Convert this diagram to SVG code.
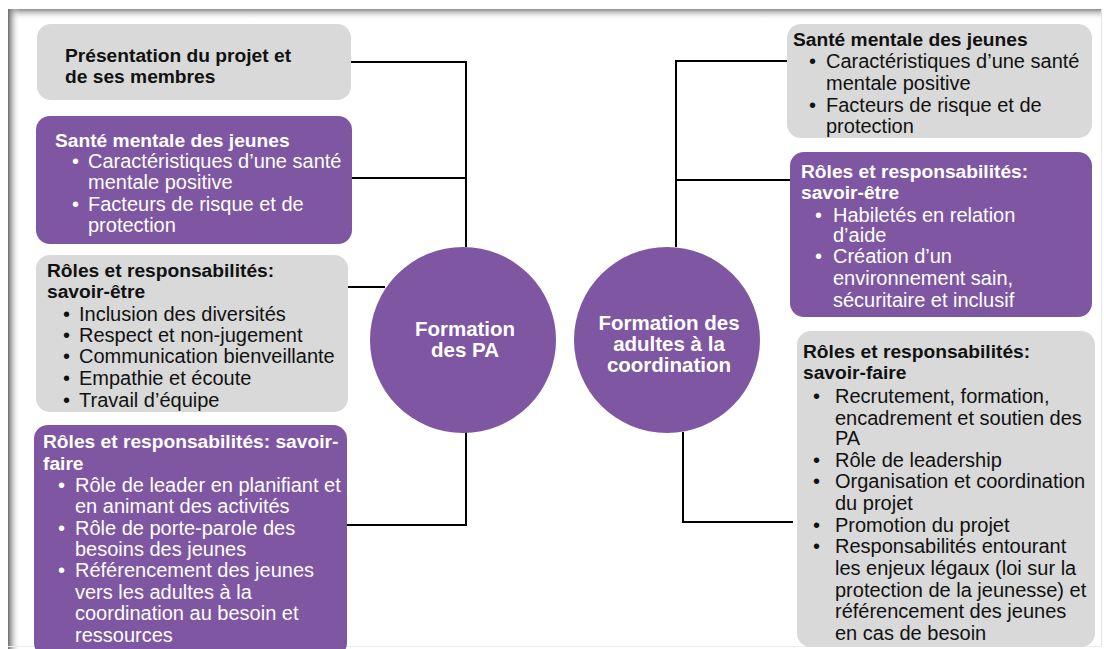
<svg xmlns="http://www.w3.org/2000/svg" width="1104" height="649" viewBox="0 0 1104 649">
<defs>
<linearGradient id="shTop" x1="0" y1="0" x2="0" y2="1"><stop offset="0" stop-color="#8a8a8a"/><stop offset="1" stop-color="#ffffff" stop-opacity="0"/></linearGradient>
<linearGradient id="shLeft" x1="0" y1="0" x2="1" y2="0"><stop offset="0" stop-color="#6a6a6a"/><stop offset="1" stop-color="#ffffff" stop-opacity="0"/></linearGradient>
<style>
.gray{fill:#d9d9d9}
.purp{fill:#7e56a2}
.t{font-family:"Liberation Sans",Arial,sans-serif;font-size:20px}
.b{font-weight:bold;font-size:19.2px}
.dk{fill:#111}
.wh{fill:#ffffff}
.conn{stroke:#000;stroke-width:2;fill:none}
.ct{font-family:"Liberation Sans",Arial,sans-serif;font-size:20.5px;font-weight:bold;fill:#fff;text-anchor:middle}
</style>
</defs>
<rect width="1104" height="649" fill="#fff"/>
<g id="frame">
<rect x="8" y="9" width="1094" height="11" fill="url(#shTop)"/>
<rect x="8" y="9" width="12" height="640" fill="url(#shLeft)"/>
<line x1="1101.5" y1="9" x2="1101.5" y2="646" stroke="#e4e4e4" stroke-width="1"/>
<line x1="8" y1="646.5" x2="1102" y2="646.5" stroke="#ececec" stroke-width="1"/>
</g>
<g id="connectors" class="conn">
<polyline points="351,62 466,62 466,247"/>
<line x1="352" y1="178" x2="466" y2="178"/>
<line x1="348" y1="287" x2="385" y2="287"/>
<polyline points="466,432 466,525 347,525"/>
<polyline points="787,61 676,61 676,247"/>
<line x1="676" y1="180" x2="790" y2="180"/>
<polyline points="683,432 683,522 793,522"/>
</g>
<g id="c-left">
<circle cx="463" cy="340" r="93" class="purp"/>
<text class="ct" x="465" y="336">Formation</text>
<text class="ct" x="465" y="357">des PA</text>
</g>
<g id="c-right">
<circle cx="667" cy="340" r="93" class="purp"/>
<text class="ct" x="669" y="330">Formation des</text>
<text class="ct" x="669" y="351">adultes à la</text>
<text class="ct" x="669" y="372">coordination</text>
</g>
<g id="l1">
<rect x="37" y="24" width="314" height="76" rx="14" class="gray"/>
<text class="t b dk"><tspan x="65" y="62">Présentation du projet et</tspan><tspan x="65" y="83">de ses membres</tspan></text>
</g>
<g id="l2">
<rect x="36" y="116" width="316" height="128" rx="14" class="purp"/>
<text class="t b wh" x="55" y="147">Santé mentale des jeunes</text>
<text class="t wh"><tspan x="72" y="168">•</tspan><tspan x="88" y="168">Caractéristiques d’une santé</tspan><tspan x="88" y="189">mentale positive</tspan><tspan x="72" y="211">•</tspan><tspan x="88" y="211">Facteurs de risque et de</tspan><tspan x="88" y="232">protection</tspan></text>
</g>
<g id="l3">
<rect x="36" y="255" width="312" height="157" rx="14" class="gray"/>
<text class="t b dk"><tspan x="47" y="277">Rôles et responsabilités:</tspan><tspan x="47" y="298">savoir-être</tspan></text>
<text class="t dk"><tspan x="63" y="321">•</tspan><tspan x="79" y="321">Inclusion des diversités</tspan><tspan x="63" y="342">•</tspan><tspan x="79" y="342">Respect et non-jugement</tspan><tspan x="63" y="363">•</tspan><tspan x="79" y="363">Communication bienveillante</tspan><tspan x="63" y="385">•</tspan><tspan x="79" y="385">Empathie et écoute</tspan><tspan x="63" y="407">•</tspan><tspan x="79" y="407">Travail d’équipe</tspan></text>
</g>
<g id="l4">
<rect x="34" y="425" width="313" height="232" rx="14" class="purp"/>
<text class="t b wh"><tspan x="43" y="448">Rôles et responsabilités: savoir-</tspan><tspan x="43" y="470">faire</tspan></text>
<text class="t wh"><tspan x="58" y="492">•</tspan><tspan x="75" y="492">Rôle de leader en planifiant et</tspan><tspan x="75" y="513">en animant des activités</tspan><tspan x="58" y="535">•</tspan><tspan x="75" y="535">Rôle de porte-parole des</tspan><tspan x="75" y="556">besoins des jeunes</tspan><tspan x="58" y="577">•</tspan><tspan x="75" y="577">Référencement des jeunes</tspan><tspan x="75" y="599">vers les adultes à la</tspan><tspan x="75" y="620">coordination au besoin et</tspan><tspan x="75" y="642">ressources</tspan></text>
</g>
<g id="r1">
<rect x="787" y="24" width="305" height="114" rx="14" class="gray"/>
<text class="t b dk" x="793" y="46">Santé mentale des jeunes</text>
<text class="t dk"><tspan x="809" y="68">•</tspan><tspan x="826" y="68">Caractéristiques d’une santé</tspan><tspan x="826" y="90">mentale positive</tspan><tspan x="809" y="112">•</tspan><tspan x="826" y="112">Facteurs de risque et de</tspan><tspan x="826" y="133">protection</tspan></text>
</g>
<g id="r2">
<rect x="790" y="152" width="302" height="165" rx="14" class="purp"/>
<text class="t b wh"><tspan x="801" y="178">Rôles et responsabilités:</tspan><tspan x="801" y="199">savoir-être</tspan></text>
<text class="t wh"><tspan x="815" y="222">•</tspan><tspan x="833" y="222">Habiletés en relation</tspan><tspan x="833" y="242">d’aide</tspan><tspan x="815" y="263">•</tspan><tspan x="833" y="263">Création d’un</tspan><tspan x="833" y="285">environnement sain,</tspan><tspan x="833" y="307">sécuritaire et inclusif</tspan></text>
</g>
<g id="r3">
<rect x="797" y="331" width="298" height="316" rx="14" class="gray"/>
<text class="t b dk"><tspan x="803" y="358">Rôles et responsabilités:</tspan><tspan x="803" y="379">savoir-faire</tspan></text>
<text class="t dk"><tspan x="813" y="403">•</tspan><tspan x="835" y="403">Recrutement, formation,</tspan><tspan x="835" y="425">encadrement et soutien des</tspan><tspan x="835" y="445">PA</tspan><tspan x="813" y="467">•</tspan><tspan x="835" y="467">Rôle de leadership</tspan><tspan x="813" y="488">•</tspan><tspan x="835" y="488">Organisation et coordination</tspan><tspan x="835" y="510">du projet</tspan><tspan x="813" y="532">•</tspan><tspan x="835" y="532">Promotion du projet</tspan><tspan x="813" y="553">•</tspan><tspan x="835" y="553">Responsabilités entourant</tspan><tspan x="835" y="575">les enjeux légaux (loi sur la</tspan><tspan x="835" y="597">protection de la jeunesse) et</tspan><tspan x="835" y="618">référencement des jeunes</tspan><tspan x="835" y="640">en cas de besoin</tspan></text>
</g>
</svg>
